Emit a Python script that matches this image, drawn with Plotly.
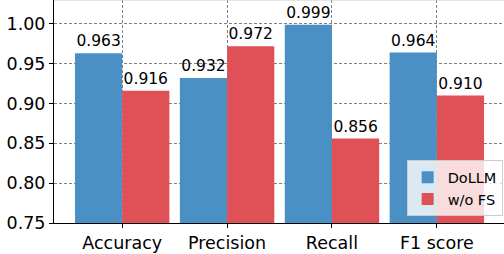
import plotly.graph_objects as go

categories = ["Accuracy", "Precision", "Recall", "F1 score"]
dollm = [0.963, 0.932, 0.999, 0.964]
wo_fs = [0.916, 0.972, 0.856, 0.910]
series_names = ["DoLLM", "w/o FS"]
colors = ["#4A90C4", "#E05157"]

fig = go.Figure()
for name, vals, col in zip(series_names, [dollm, wo_fs], colors):
    fig.add_trace(go.Bar(
        x=categories, y=vals, name=name, marker_color=col, marker_line_width=0,
        text=[f"{v:.3f}" for v in vals], textposition="outside",
        textfont=dict(size=15.5, color="black"), cliponaxis=False,
    ))

fig.update_layout(
    width=504, height=254,
    margin=dict(l=54, r=0, t=0, b=31),
    paper_bgcolor="white", plot_bgcolor="white",
    font=dict(family="DejaVu Sans", color="black"),
    barmode="group", bargap=0.1, bargroupgap=0,
    legend=dict(x=0.997, y=0.03, xanchor="right", yanchor="bottom",
                bgcolor="rgba(255,255,255,0.8)", bordercolor="#cccccc", borderwidth=1,
                font=dict(size=14.5), tracegroupgap=0, itemwidth=30),
)
fig.update_xaxes(
    range=[-0.65, 3.64], showline=True, linecolor="black", linewidth=1,
    ticks="outside", ticklen=4, tickcolor="black", tickfont=dict(size=17.5),
    showgrid=True, gridcolor="#808080", griddash="3px,2px", gridwidth=0.8,
    automargin=False,
)
fig.update_yaxes(
    range=[0.75, 1.03], dtick=0.05, tickformat=".2f",
    showline=True, linecolor="black", linewidth=1,
    ticks="outside", ticklen=4, tickcolor="black", tickfont=dict(size=17.5),
    showgrid=True, gridcolor="#808080", griddash="3px,2px", gridwidth=0.8,
    zeroline=False, automargin=False,
)
fig.add_shape(type="line", xref="paper", yref="paper", x0=0, x1=1, y0=1, y1=1,
              line=dict(color="#cccccc", width=1))

fig.write_html("out.html", config={"displayModeBar": False},
               post_script="document.body.style.margin='0';document.body.style.overflow='hidden';")
